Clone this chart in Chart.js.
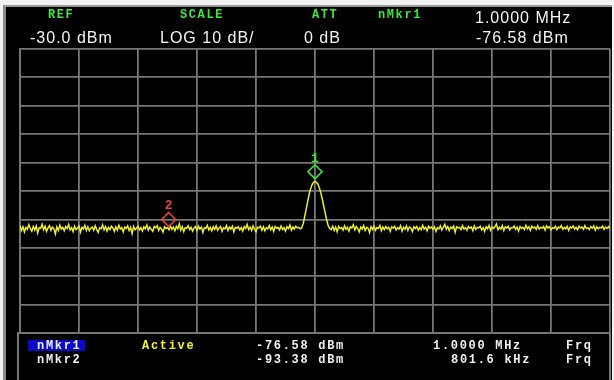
<!DOCTYPE html>
<html>
<head>
<meta charset="utf-8">
<script src="https://cdn.jsdelivr.net/npm/chart.js@4.4.1/dist/chart.umd.min.js"></script>
<style>
  body { margin: 0; background: #f2f2f2; width: 614px; height: 380px; overflow: hidden; position: relative; }
  #screen { position: absolute; left: 3px; top: 5px; width: 606px; height: 375px; background: #000;
            border-left: 3px solid #8a8a8a; border-top: 2px solid #9a9a9a; }
  #plot { position: absolute; left: 0; top: 0; }
  .t { position: absolute; white-space: pre; line-height: 1; }
  .lbl { font: bold 12px "Liberation Mono", monospace; letter-spacing: 1.6px; color: #3ee63e; }
  .val { font: 16px "Liberation Sans", Arial, sans-serif; letter-spacing: 1px; color: #f4f4f4; }
  .row { font: bold 12px "Liberation Mono", monospace; letter-spacing: 1.7px; color: #f0f0f0; }
  #box { position: absolute; left: 17px; top: 332px; width: 590px; height: 50px;
         border-left: 2px solid #777; border-right: 2px solid #777; border-top: 2px solid #777; }
</style>
</head>
<body>
<div id="screen"></div>
<div id="box"></div>
<canvas id="plot" width="614" height="380"></canvas>

<div class="t lbl" style="left:48px;top:8px">REF</div>
<div class="t lbl" style="left:180px;top:8px">SCALE</div>
<div class="t lbl" style="left:312px;top:8px">ATT</div>
<div class="t lbl" style="left:378px;top:8px">nMkr1</div>
<div class="t val" style="left:475px;top:9px">1.0000 MHz</div>
<div class="t val" style="left:30px;top:29px">-30.0 dBm</div>
<div class="t val" style="left:160px;top:29px">LOG 10 dB/</div>
<div class="t val" style="left:304px;top:29px">0 dB</div>
<div class="t val" style="left:476px;top:29px">-76.58 dBm</div>

<div class="t" style="left:28px;top:340px;width:57px;height:11px;background:#0a0ac8"></div>
<div class="t row" style="left:37px;top:339px">nMkr1</div>
<div class="t row" style="left:142px;top:339px;color:#f0f030">Active</div>
<div class="t row" style="left:256px;top:339px">-76.58 dBm</div>
<div class="t row" style="left:433px;top:339px">1.0000 MHz</div>
<div class="t row" style="left:566px;top:339px">Frq</div>
<div class="t row" style="left:37px;top:353px">nMkr2</div>
<div class="t row" style="left:256px;top:353px">-93.38 dBm</div>
<div class="t row" style="left:451px;top:353px">801.6 kHz</div>
<div class="t row" style="left:566px;top:353px">Frq</div>

<script>
// sweep: 600 kHz .. 1400 kHz, 2 kHz per point (401 points)
const startKHz = 600;
const stopKHz = 1400;
const stepKHz = 2;

const traceLevels = [
  -92.1,-93.9,-92.6,-94.4,-92.8,-93.5,-91.9,-93.2,-94.1,-92.5,
  -93.7,-92.3,-94.8,-92.9,-93.1,-91.7,-93.6,-92.4,-94.2,-93.0,
  -92.2,-93.8,-92.7,-93.3,-95.1,-92.6,-93.9,-92.0,-93.4,-92.8,
  -94.0,-92.5,-93.2,-91.8,-93.7,-92.9,-94.3,-92.4,-93.6,-93.0,
  -92.3,-94.5,-92.8,-93.4,-92.1,-93.9,-92.6,-94.0,-93.1,-92.7,
  -93.8,-92.2,-93.5,-94.6,-92.9,-93.3,-91.9,-93.7,-92.5,-94.1,
  -92.8,-93.6,-92.4,-93.0,-94.2,-92.6,-93.8,-92.1,-93.4,-92.9,
  -94.4,-92.7,-93.2,-92.3,-93.9,-92.8,-95.0,-92.5,-93.6,-93.1,
  -92.4,-93.7,-92.9,-94.1,-92.6,-93.3,-92.0,-93.8,-92.7,-93.5,
  -94.2,-92.5,-93.0,-92.2,-93.9,-92.8,-93.4,-94.5,-92.6,-93.2,
  -92.9,-93.7,-92.3,-93.5,-92.7,-94.0,-92.4,-93.3,-91.6,-93.8,
  -92.6,-94.3,-92.9,-93.1,-92.2,-93.6,-92.8,-94.1,-93.0,-92.5,
  -93.9,-92.4,-93.4,-92.7,-94.6,-92.9,-93.2,-92.1,-93.7,-92.8,
  -94.0,-92.6,-93.5,-92.3,-93.8,-93.0,-92.5,-94.2,-92.9,-93.3,
  -92.2,-93.9,-92.7,-93.4,-92.4,-94.4,-92.8,-93.1,-92.6,-93.7,
  -92.9,-94.1,-92.5,-93.2,-91.8,-93.6,-92.7,-93.9,-92.3,-93.4,
  -94.3,-92.8,-93.0,-92.4,-93.8,-92.6,-94.0,-92.9,-93.3,-92.2,
  -93.6,-92.7,-94.2,-92.5,-93.1,-92.8,-93.7,-92.3,-93.5,-92.9,
  -94.1,-92.6,-93.2,-92.0,-93.8,-92.7,-93.4,-92.4,-93.0,-92.8,
  -93.3,
  -93.0,-91.5,-89.0,-86.5,-83.8,-81.2,-79.2,-77.8,-76.9,-76.58,
  -76.9,-77.6,-79.0,-80.8,-83.0,-85.5,-88.0,-90.4,-92.3,-93.2,
  -93.6,-92.4,-93.9,-92.7,-94.3,-92.5,-93.2,-92.9,-93.8,-92.3,
  -93.5,-92.8,-94.1,-92.6,-93.0,-91.9,-93.7,-92.5,-93.3,-94.4,
  -92.7,-93.4,-92.2,-93.9,-92.8,-93.1,-94.6,-92.6,-93.5,-92.4,
  -93.8,-92.9,-93.2,-92.1,-94.0,-92.7,-93.6,-92.5,-93.3,-92.8,
  -94.2,-92.6,-93.1,-92.4,-93.7,-92.9,-93.4,-92.2,-94.1,-92.8,
  -93.5,-92.3,-93.9,-92.7,-93.0,-94.3,-92.6,-93.2,-92.5,-93.8,
  -92.9,-93.6,-92.1,-93.4,-92.8,-94.0,-92.4,-93.1,-92.7,-93.5,
  -92.6,-94.2,-92.9,-93.3,-92.3,-93.7,-92.8,-91.7,-93.4,-92.5,
  -93.9,-92.7,-93.2,-92.4,-94.5,-92.6,-93.0,-92.8,-93.6,-92.2,
  -93.4,-92.9,-93.8,-92.5,-93.1,-92.7,-94.0,-92.3,-93.5,-92.8,
  -93.0,-92.4,-93.7,-92.9,-94.2,-92.6,-93.3,-92.1,-93.8,-92.7,
  -93.2,-92.5,-91.6,-93.6,-92.8,-93.4,-92.2,-93.9,-92.6,-93.1,
  -92.4,-93.7,-92.9,-93.0,-92.3,-93.5,-92.7,-94.1,-92.5,-93.2,
  -92.8,-93.6,-92.1,-93.3,-92.6,-93.9,-92.4,-93.0,-92.7,-93.5,
  -92.2,-93.4,-92.8,-93.1,-92.5,-93.8,-92.3,-93.0,-92.6,-93.7,
  -92.9,-93.2,-92.4,-93.6,-92.7,-93.0,-92.2,-93.5,-92.8,-93.3,
  -92.5,-93.9,-92.6,-93.1,-92.3,-93.4,-92.8,-93.7,-92.4,-93.0,
  -92.7,-93.5,-92.2,-93.2,-92.9,-93.6,-92.5,-93.1,-92.3,-93.8,
  -92.6,-93.3,-92.8,-93.0,-92.4,-93.5,-92.7,-93.2,-92.5,-93.4
];

const markerNames = ["1", "2"];
const markerFreqKHz = [1000, 801.6];
const markerLevels = [-76.58, -93.38];
const markerColors = ["#3ee63e", "#ee4040"];

const refLevel = -30;
const dbPerDiv = 10;

const tracePoints = traceLevels.map((v, i) => ({ x: startKHz + i * stepKHz, y: v }));

const markerPlugin = {
  id: "markers",
  afterDatasetsDraw(chart) {
    const c = chart.ctx;
    const xs = chart.scales.x, ys = chart.scales.y;
    c.save();
    markerNames.forEach((name, i) => {
      const px = xs.getPixelForValue(markerFreqKHz[i]);
      const py = ys.getPixelForValue(markerLevels[i]);
      const cy = py - 9.5, r = 7;
      c.strokeStyle = markerColors[i];
      c.lineWidth = 1.6;
      c.beginPath();
      c.moveTo(px, cy - r); c.lineTo(px + r, cy); c.lineTo(px, cy + r); c.lineTo(px - r, cy);
      c.closePath();
      c.stroke();
      c.fillStyle = markerColors[i];
      c.font = "bold 13px 'Liberation Mono', monospace";
      c.textAlign = "center";
      c.textBaseline = "middle";
      c.fillText(name, px, py - 23);
    });
    c.restore();
  }
};

new Chart(document.getElementById("plot"), {
  type: "line",
  data: {
    datasets: [{
      data: tracePoints,
      borderColor: "#eded35",
      borderWidth: 1.5,
      pointRadius: 0,
      tension: 0
    }]
  },
  options: {
    responsive: false,
    animation: false,
    layout: { padding: { left: 20, top: 49, right: 4, bottom: 47 } },
    plugins: { legend: { display: false }, tooltip: { enabled: false } },
    scales: {
      x: {
        type: "linear",
        min: startKHz, max: stopKHz,
        ticks: { display: false, stepSize: 80 },
        grid: { color: "#767676", lineWidth: 1.8, drawTicks: false },
        border: { color: "#767676", width: 1.8 }
      },
      y: {
        min: refLevel - 10 * dbPerDiv, max: refLevel,
        ticks: { display: false, stepSize: dbPerDiv },
        grid: { color: "#767676", lineWidth: 1.8, drawTicks: false },
        border: { color: "#767676", width: 1.8 }
      }
    }
  },
  plugins: [markerPlugin]
});
</script>
</body>
</html>
